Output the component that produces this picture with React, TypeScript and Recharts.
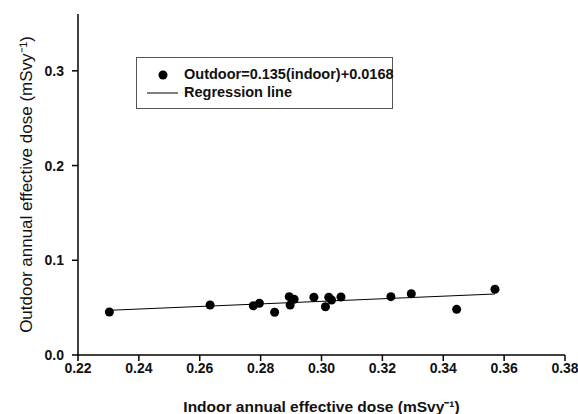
import { ScatterChart, Scatter, XAxis, YAxis } from 'recharts'

// indoor / outdoor annual effective dose (mSv/y)
const indoor = [
  0.2303, 0.2634, 0.2776, 0.2796, 0.2846, 0.2894, 0.2897, 0.291, 0.2975,
  0.3013, 0.3024, 0.3033, 0.3064, 0.3228, 0.3295, 0.3444, 0.357,
]
const outdoor = [
  0.0454, 0.0528, 0.052, 0.0546, 0.0451, 0.0616, 0.0528, 0.0588, 0.0609,
  0.051, 0.0609, 0.0581, 0.0612, 0.0616, 0.0647, 0.0482, 0.0694,
]
const lineX = [0.2303, 0.357]
const lineY = [0.0472, 0.0644]

const xTicks = [0.22, 0.24, 0.26, 0.28, 0.3, 0.32, 0.34, 0.36, 0.38]
const yTicks = [0, 0.1, 0.2, 0.3]

const points = indoor.map((x, i) => ({ x, y: outdoor[i] }))
const regression = lineX.map((x, i) => ({ x, y: lineY[i] }))

const font = '"Liberation Sans", Arial, sans-serif'

function LegendBox() {
  return (
    <div
      style={{
        position: 'absolute',
        left: 136,
        top: 57,
        border: '1px solid #555',
        width: 257,
        height: 52,
        boxSizing: 'border-box',
        fontFamily: font,
        fontWeight: 'bold',
        fontSize: 14.5,
        color: '#111',
        background: '#fff',
      }}
    >
      <svg width={40} height={50} style={{ position: 'absolute', left: 8, top: 0 }}>
        <circle cx={18} cy={17} r={4.5} fill="#000" />
        <line x1={2} x2={33} y1={35} y2={35} stroke="#000" strokeWidth={1} />
      </svg>
      <div style={{ position: 'absolute', left: 47, top: 8, lineHeight: '17px' }}>
        Outdoor=0.135(indoor)+0.0168
      </div>
      <div style={{ position: 'absolute', left: 47, top: 26, lineHeight: '17px' }}>
        Regression line
      </div>
    </div>
  )
}

export default function App() {
  return (
    <div style={{ position: 'absolute', left: 0, top: 0, background: '#fff' }}>
      <ScatterChart
        width={578}
        height={414}
        margin={{ top: 14, right: 13, bottom: 0, left: 0 }}
      >
        <XAxis
          type="number"
          dataKey="x"
          domain={[0.22, 0.38]}
          ticks={xTicks}
          tickFormatter={(v: number) => v.toFixed(2)}
          height={59}
          tickSize={6}
          axisLine={{ stroke: '#000', strokeWidth: 1.5 }}
          tickLine={{ stroke: '#000', strokeWidth: 1.5 }}
          tick={{ fill: '#111', fontSize: 14, fontWeight: 'bold', fontFamily: font }}
          label={{
            value: 'Indoor annual effective dose (mSvy⁻¹)',
            position: 'insideBottom',
            offset: 2,
            fill: '#111',
            style: { fill: '#111', fontSize: 15.5, fontWeight: 'bold', fontFamily: font },
          }}
        />
        <XAxis
          xAxisId="top"
          orientation="top"
          type="number"
          domain={[0.22, 0.38]}
          height={0}
          tick={false}
          tickLine={false}
          axisLine={{ stroke: '#000', strokeWidth: 1.5 }}
        />
        <YAxis
          type="number"
          dataKey="y"
          domain={[0, 0.36]}
          ticks={yTicks}
          tickFormatter={(v: number) => v.toFixed(1)}
          width={78}
          tickSize={6}
          tickMargin={8}
          axisLine={{ stroke: '#000', strokeWidth: 1.5 }}
          tickLine={{ stroke: '#000', strokeWidth: 1.5 }}
          tick={{ fill: '#111', fontSize: 14, fontWeight: 'bold', fontFamily: font }}
          label={{
            value: 'Outdoor annual effective dose (mSvy⁻¹)',
            angle: -90,
            position: 'insideLeft',
            offset: 26,
            fill: '#111',
            style: { textAnchor: 'middle', fill: '#111', fontSize: 17, fontFamily: font },
          }}
        />
        <YAxis
          yAxisId="right"
          orientation="right"
          type="number"
          domain={[0, 0.36]}
          width={0}
          tick={false}
          tickLine={false}
          axisLine={{ stroke: '#000', strokeWidth: 1.5 }}
        />
        <Scatter
          data={regression}
          line={{ stroke: '#000', strokeWidth: 1 }}
          shape={() => null}
          isAnimationActive={false}
        />
        <Scatter data={points} fill="#000" shape="circle" isAnimationActive={false} />
      </ScatterChart>
      <LegendBox />
    </div>
  )
}
